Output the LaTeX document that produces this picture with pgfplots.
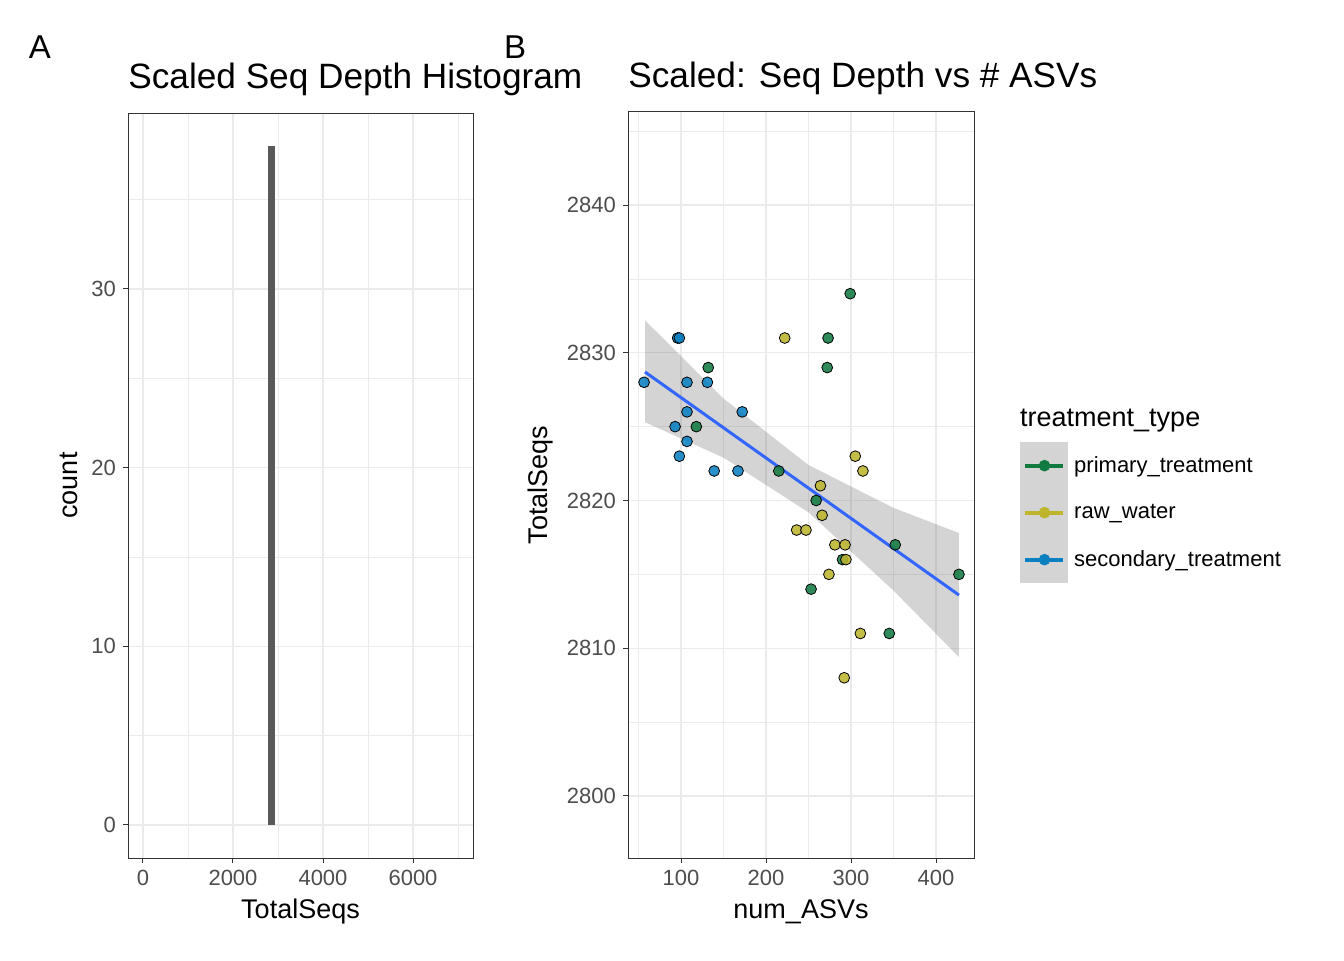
\documentclass[border=0pt]{standalone}
\usepackage{pgfplots}
\pgfplotsset{compat=1.18}
\usepackage{fontspec}
\setmainfont{Liberation Sans}
\definecolor{cprim}{HTML}{117A41}
\definecolor{craw}{HTML}{BDB52C}
\definecolor{csec}{HTML}{0A80C0}
\definecolor{gridc}{HTML}{EBEBEB}
\definecolor{axc}{HTML}{333333}
\definecolor{tickl}{HTML}{4D4D4D}
\pgfplotsset{
 gg/.style={scale only axis, axis line style={axc,line width=0.5pt},
  tick style={axc,line width=0.5pt}, tick align=outside, major tick length=2.5pt,
  minor tick length=0pt, grid=both,
  major grid style={gridc,line width=0.7pt}, minor grid style={gridc,line width=0.35pt},
  tick label style={font=\fontsize{11}{13}\selectfont, text=tickl},
  /pgf/number format/assume math mode=true,
  /pgf/number format/1000 sep={},
  label style={font=\fontsize{13.5}{16}\selectfont},
  title style={font=\fontsize{17.6}{20}\selectfont, at={(0,1)}, anchor=south west, inner xsep=0pt, yshift=-1pt},
  xtick pos=bottom, ytick pos=left},
 pts/.style={only marks, mark=*, mark size=2.7pt, mark options={draw=none, fill=#1, fill opacity=0.88}, forget plot},
}
\begin{document}
\begin{tikzpicture}
\path (0,0) rectangle (672pt,480pt);
\node[font=\fontsize{16.5}{19}\selectfont] at (20pt,456.5pt) {A};
\node[font=\fontsize{16.5}{19}\selectfont] at (257.5pt,456.5pt) {B};
\begin{axis}[gg, at={(64pt,51pt)}, anchor=south west, width=172.5pt, height=372.5pt,
 xmin=-333, xmax=7333, ymin=-1.85, ymax=39.85,
 xtick={0,2000,4000,6000}, minor xtick={1000,3000,5000,7000},
 ytick={0,10,20,30}, minor ytick={5,15,25,35},
 xlabel={TotalSeqs}, ylabel={count}, title={Scaled Seq Depth Histogram}]
\addplot[fill=black!65, draw=none, ybar interval] coordinates {(2780,38) (2930,38)};
\end{axis}
\begin{axis}[gg, at={(314pt,51pt)}, anchor=south west, width=173pt, height=373pt,
 xmin=37.6, xmax=444.7, ymin=2795.8, ymax=2846.3,
 xtick={100,200,300,400}, minor xtick={50,150,250,350},
 ytick={2800,2810,2820,2830,2840}, minor ytick={2805,2815,2825,2835,2845},
 xlabel={num\_ASVs}, ylabel={TotalSeqs}, title={Scaled: Seq Depth vs \# ASVs},
 legend style={at={(1.115,0.625)}, anchor=north west, draw=none, fill=none,
  font=\fontsize{11}{13}\selectfont, row sep=0pt,
  nodes={inner ysep=0pt, minimum height=23pt, inner xsep=3pt}},
 legend cell align=left,
 legend image code/.code={\fill[black!17] (-0.02cm,-0.406cm) rectangle (0.81cm,0.406cm);
   \draw[#1,line width=2pt] (0.06cm,0cm)--(0.73cm,0cm);
   \fill[#1] (0.4cm,0cm) circle (2.7pt);}]
\addlegendimage{empty legend}
\addlegendentry{\hspace{-0.95cm}\fontsize{13.5}{16}\selectfont treatment\_type}
\addlegendimage{cprim}\addlegendentry{primary\_treatment}
\addlegendimage{craw}\addlegendentry{raw\_water}
\addlegendimage{csec}\addlegendentry{secondary\_treatment}
\addplot[draw=none, fill=black!60, fill opacity=0.28, forget plot] coordinates {
(57.6,2832.2)(150,2826.9)(250,2822.4)(350,2819.5)(427,2817.8)
(427,2809.4)(350,2813.9)(250,2819.2)(150,2822.9)(57.6,2825.3)} -- cycle;
\addplot[pts=cprim] coordinates {
(132,2829)(118,2825)(215,2822)(259,2820)(273,2831)(272,2829)(299,2834)(253,2814)(290,2816)(352,2817)(427,2815)(345,2811)};
\addplot[pts=craw] coordinates {
(222,2831)(305,2823)(314,2822)(264,2821)(266,2819)(236,2818)(247,2818)(281,2817)(293,2817)(294,2816)(274,2815)(311,2811)(292,2808)};
\addplot[pts=csec] coordinates {
(56.5,2828)(96,2831)(98,2831)(93,2825)(98,2823)(107,2828)(107,2826)(107,2824)(131,2828)(139,2822)(167,2822)(172,2826)};
\addplot[color={rgb,255:red,51;green,102;blue,255}, line width=1.5pt, forget plot] coordinates {(57.6,2828.7)(427,2813.6)};
\end{axis}
\end{tikzpicture}
\end{document}
